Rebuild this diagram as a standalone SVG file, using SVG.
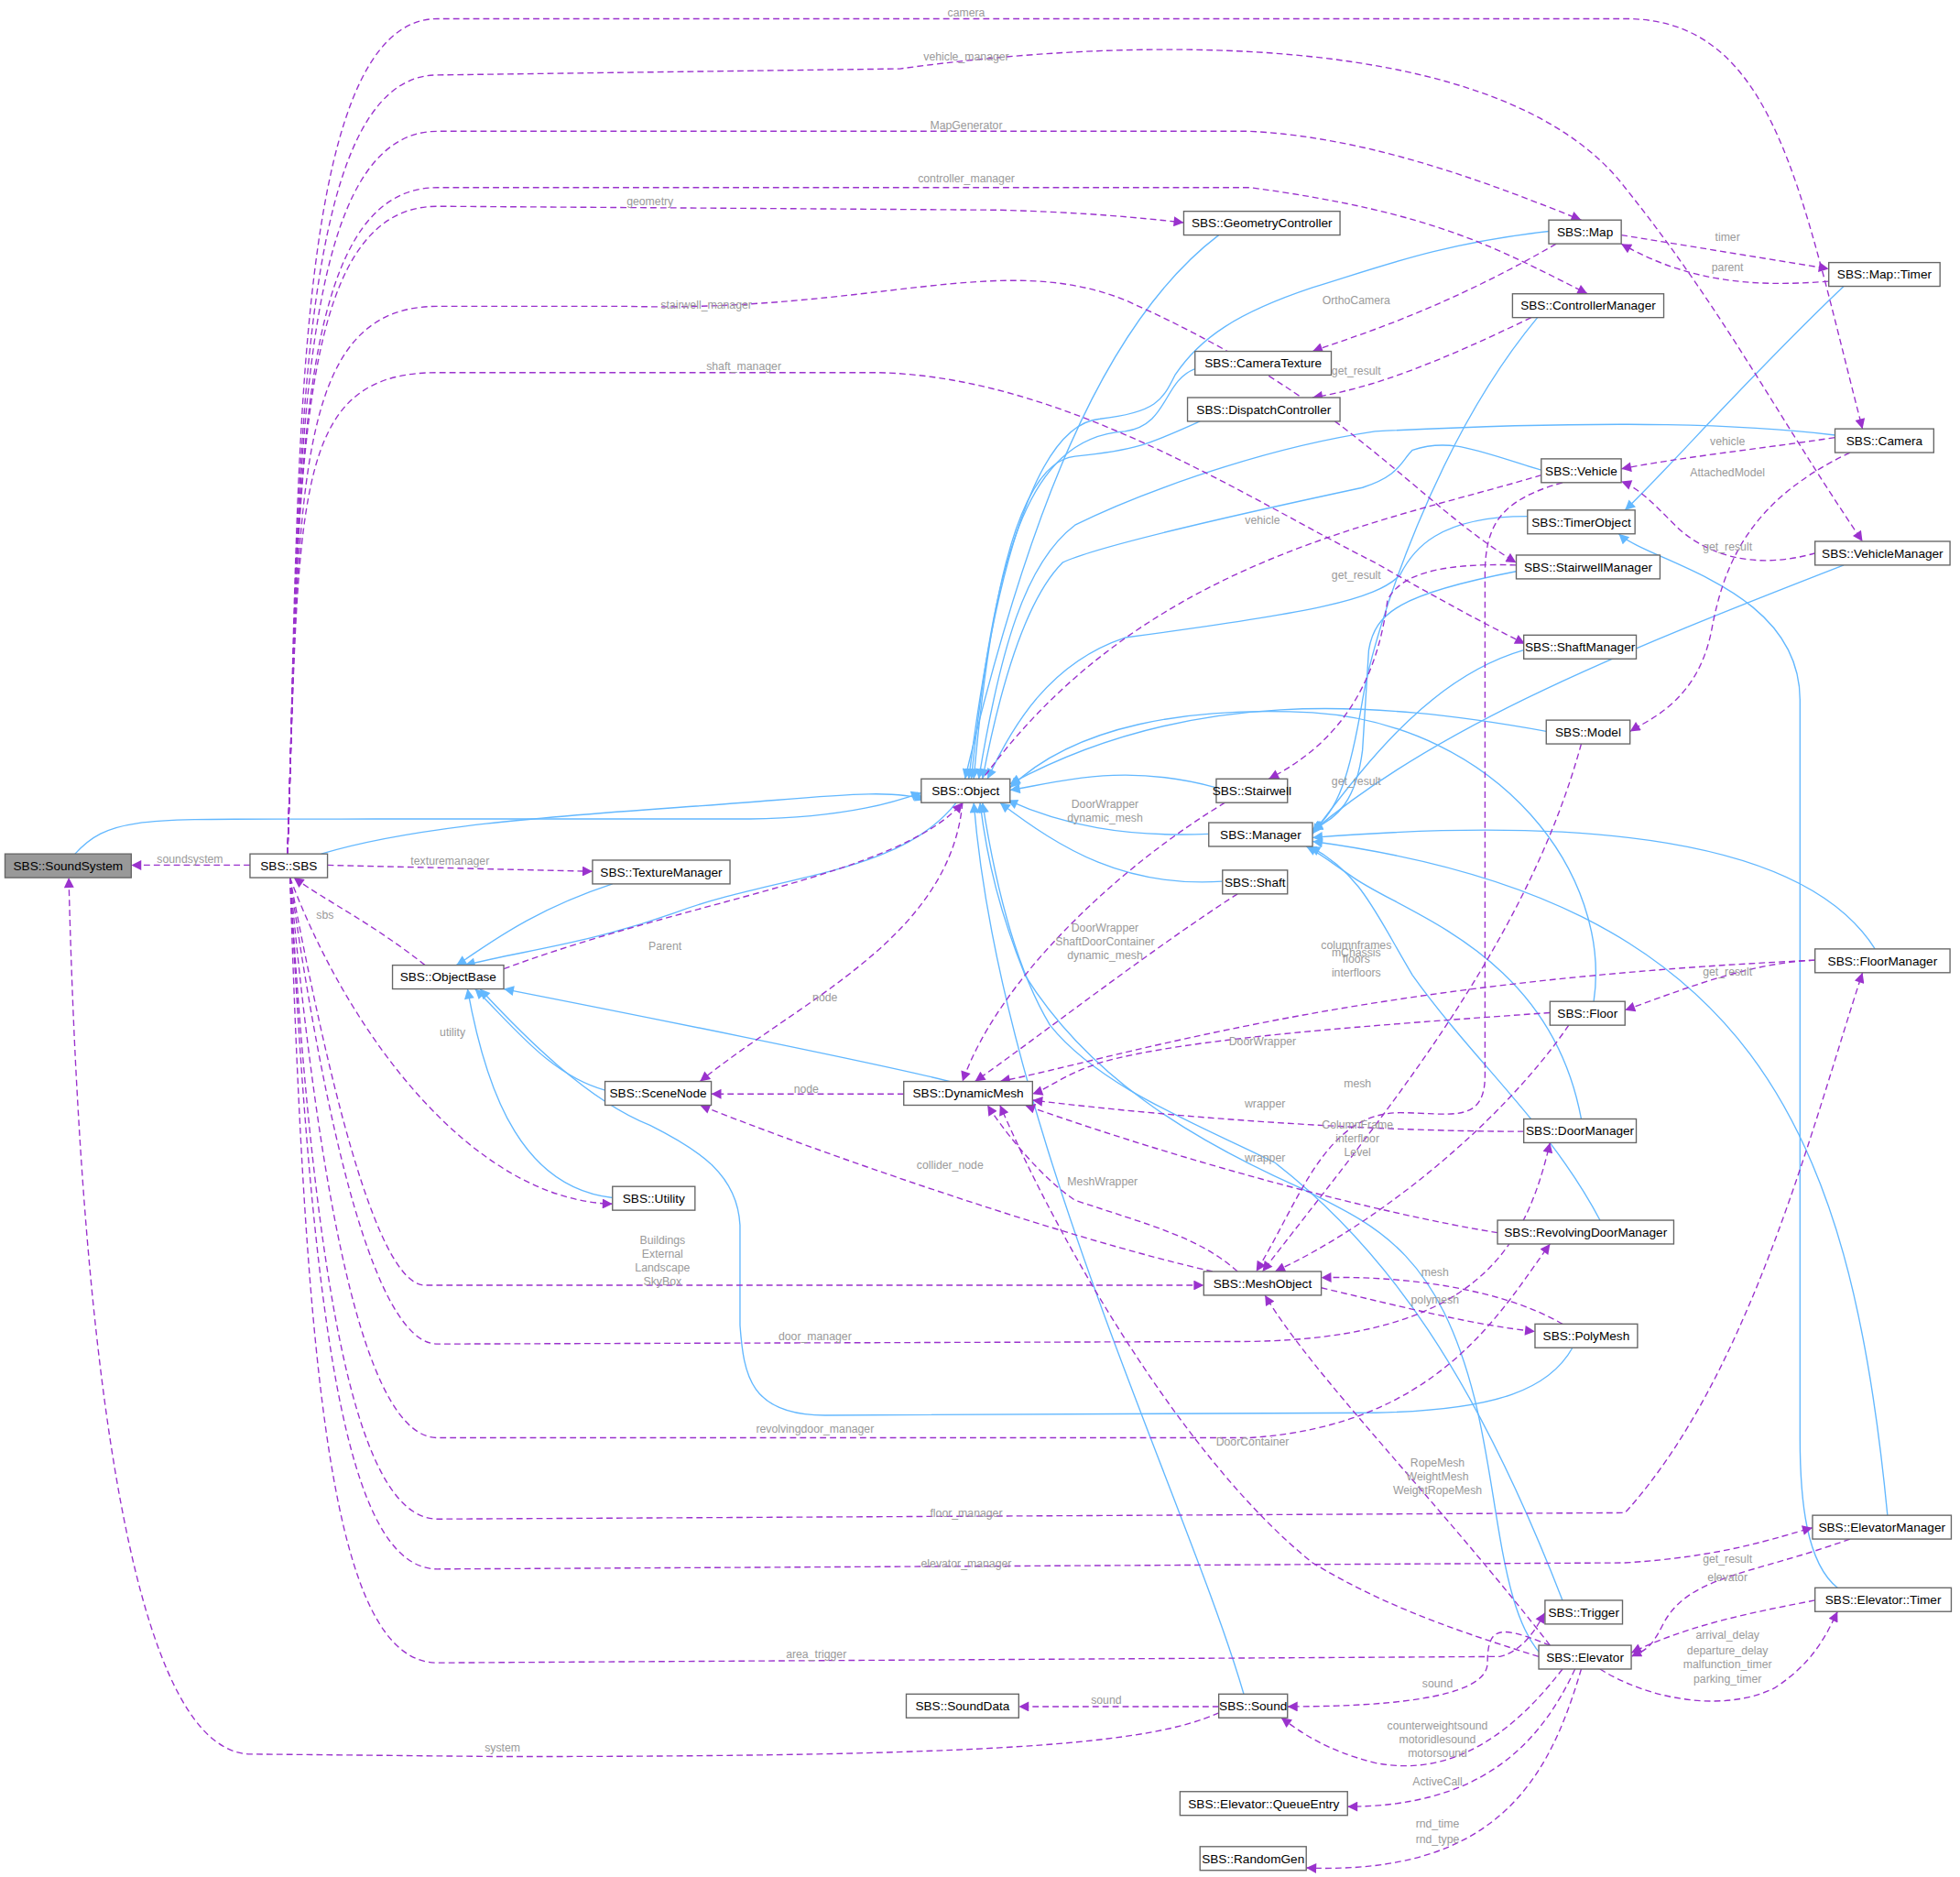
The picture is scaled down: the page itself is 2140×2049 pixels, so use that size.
<svg xmlns="http://www.w3.org/2000/svg" width="2140" height="2049" viewBox="0 0 2140 2049">
<style>
.n rect{fill:#fff;stroke:#666;stroke-width:1}
.n text{font-family:"Liberation Sans",Arial,sans-serif;font-size:10px;fill:#000;text-anchor:middle}
.b{fill:none;stroke:#63b8ff;stroke-width:1}
.d{fill:none;stroke:#9a32cd;stroke-width:1;stroke-dasharray:5,3}
.l{font-family:"Liberation Sans",Arial,sans-serif;font-size:9px;fill:#9a9a9a;text-anchor:middle}
</style>
<defs>
<marker id="ab" viewBox="0 0 10 10" refX="10" refY="5" markerWidth="10" markerHeight="8" markerUnits="userSpaceOnUse" orient="auto"><path d="M0,0L10,5L0,10z" fill="#63b8ff"/></marker>
<marker id="ad" viewBox="0 0 10 10" refX="10" refY="5" markerWidth="10" markerHeight="8" markerUnits="userSpaceOnUse" orient="auto"><path d="M0,0L10,5L0,10z" fill="#9a32cd"/></marker>
</defs>
<rect width="2140" height="2049" fill="#fff"/>
<g transform="scale(1.3648)">
<g id="connectors">
<g marker-end="url(#ab)">
<path class="b" d="M60,683 C90,650 120,656 300,655 L600,655 C680,654 720,640 737,634"/>
<path class="b" d="M257,683 C350,655 500,650 620,640 C680,635 720,632 740,640"/>
<path class="b" d="M765,642 C720,700 620,700 540,730 C470,755 420,760 372,772"/>
<path class="b" d="M490,707 C420,730 385,760 365,772"/>
<path class="b" d="M484,872 C440,860 410,820 380,791"/>
<path class="b" d="M760,865 C700,850 500,810 403,791"/>
<path class="b" d="M490,958 C420,950 390,880 374,791"/>
<path class="b" d="M1258,1078 C1240,1110 1200,1128 1100,1130 L660,1132 C600,1132 595,1100 592,1060 L592,980 C590,940 560,920 520,900 C470,880 420,830 384,791"/>
<path class="b" d="M975,188 C880,260 820,420 772,623"/>
<path class="b" d="M956,295 C930,305 935,340 900,345 C820,350 795,450 777,623"/>
<path class="b" d="M1239,185 C1150,195 1100,215 1050,230 C990,250 960,270 940,300 C930,320 925,330 880,335 C820,340 790,500 775,623"/>
<path class="b" d="M960,337 C920,355 910,360 860,365 C810,370 790,500 779,623"/>
<path class="b" d="M1230,254 C1150,350 1100,500 1090,560 C1080,620 1070,650 1050,664"/>
<path class="b" d="M1468,348 C1400,340 1300,335 1100,345 C1000,360 900,400 860,420 C820,450 800,520 783,623"/>
<path class="b" d="M1233,376 C1180,360 1160,350 1130,360 C1120,370 1120,380 1090,390 C950,420 870,440 850,450 C820,480 800,550 786,623"/>
<path class="b" d="M1222,413 C1150,413 1130,440 1120,460 C1100,480 1050,490 900,510 C840,530 810,580 790,623"/>
<path class="b" d="M1475,229 C1400,300 1330,380 1300,408"/>
<path class="b" d="M1470,1270 C1445,1250 1440,1200 1440,1150 L1440,560 C1440,470 1320,450 1295,427"/>
<path class="b" d="M1213,457 C1120,475 1100,490 1095,520 L1090,600 C1085,640 1070,655 1050,663"/>
<path class="b" d="M1475,452 C1300,520 1150,580 1050,665"/>
<path class="b" d="M1219,520 C1150,540 1100,600 1050,667"/>
<path class="b" d="M1237,585 C1100,560 950,550 808,627"/>
<path class="b" d="M973,630 C900,610 850,625 808,632"/>
<path class="b" d="M967,667 C900,670 850,660 806,640"/>
<path class="b" d="M978,705 C900,710 850,680 800,642"/>
<path class="b" d="M1500,759 C1450,680 1300,650 1050,670"/>
<path class="b" d="M1275,801 C1290,700 1200,580 1050,570 C950,565 860,580 808,630"/>
<path class="b" d="M1265,895 C1240,760 1120,730 1080,700 C1065,690 1055,682 1045,677"/>
<path class="b" d="M1280,976 C1240,900 1180,850 1130,780 C1100,730 1090,700 1048,677"/>
<path class="b" d="M1510,1212 C1480,900 1400,720 1050,673"/>
<path class="b" d="M1250,1280 C1180,1100 1110,1000 1020,930 C960,900 880,870 840,820 C810,770 795,700 786,642"/>
<path class="b" d="M1240,1330 C1200,1300 1200,1200 1180,1120 C1150,1000 1100,980 1040,950 C950,910 870,860 820,780 C800,730 790,690 784,642"/>
<path class="b" d="M995,1355 C950,1200 800,900 779,642"/>
</g>
<g marker-end="url(#ad)">
<path class="d" d="M230,683 C240,400 230,15 350,15 L1300,15 C1420,15 1440,150 1490,343"/>
<path class="d" d="M230,683 C240,400 232,60 350,60 L720,55 C900,30 1200,20 1300,150 C1380,250 1420,330 1490,433"/>
<path class="d" d="M230,683 C240,400 232,105 350,105 L1000,105 C1100,110 1200,150 1265,176"/>
<path class="d" d="M230,683 C240,400 232,150 350,150 L1000,150 C1150,170 1200,200 1270,235"/>
<path class="d" d="M230,683 C240,400 232,165 350,165 L800,168 C870,170 910,174 947,178"/>
<path class="d" d="M230,683 C240,400 232,245 350,245 L500,245 C700,250 800,200 900,240 C1080,320 1130,400 1213,450"/>
<path class="d" d="M230,683 C240,400 232,298 350,298 L700,298 C850,300 1000,400 1100,450 C1170,490 1200,505 1220,515"/>
<path class="d" d="M262,692 L474,697"/>
<path class="d" d="M200,692 L105,692"/>
<path class="d" d="M340,772 C300,740 260,720 235,702"/>
<path class="d" d="M232,702 C280,830 380,960 490,963"/>
<path class="d" d="M232,702 C260,850 300,1028 340,1028 L963,1028"/>
<path class="d" d="M232,702 C260,900 300,1075 350,1075 L1000,1073 C1180,1070 1220,1000 1240,914"/>
<path class="d" d="M232,702 C255,950 290,1150 350,1150 L1000,1150 C1150,1140 1200,1050 1240,995"/>
<path class="d" d="M232,702 C250,1000 280,1215 350,1215 L1300,1210 C1400,1100 1450,900 1490,778"/>
<path class="d" d="M232,702 C250,1050 275,1255 350,1255 L1300,1250 C1380,1245 1420,1230 1450,1222"/>
<path class="d" d="M232,702 C245,1100 265,1330 350,1330 L1200,1325 C1220,1320 1230,1300 1236,1290"/>
<path class="d" d="M975,1370 C920,1395 800,1405 400,1405 L200,1403 C80,1400 60,900 55,702"/>
<path class="d" d="M975,1365 L815,1365"/>
<path class="d" d="M403,775 C550,720 720,700 770,642"/>
<path class="d" d="M770,642 C760,750 640,800 560,865"/>
<path class="d" d="M723,875 L569,875"/>
<path class="d" d="M1233,380 C1100,420 900,450 773,642"/>
<path class="d" d="M1468,350 C1400,360 1350,365 1297,375"/>
<path class="d" d="M1480,362 C1400,400 1380,450 1370,500 C1360,560 1320,575 1304,585"/>
<path class="d" d="M1460,440 C1400,460 1360,440 1340,420 C1320,400 1310,390 1297,385"/>
<path class="d" d="M1297,188 L1463,215"/>
<path class="d" d="M1463,225 C1400,230 1350,225 1297,195"/>
<path class="d" d="M1245,195 C1150,250 1080,270 1050,281"/>
<path class="d" d="M1225,254 C1150,290 1100,310 1050,318"/>
<path class="d" d="M1213,452 C1150,450 1120,460 1110,480 C1100,560 1060,600 1015,623"/>
<path class="d" d="M1452,768 C1400,770 1350,790 1300,808"/>
<path class="d" d="M1250,386 C1200,400 1188,420 1188,460 L1188,860 C1188,900 1160,890 1120,890 C1060,890 1040,960 1005,1017"/>
<path class="d" d="M1265,595 C1220,760 1100,900 1010,1017"/>
<path class="d" d="M980,642 C900,690 800,780 770,865"/>
<path class="d" d="M990,715 C920,760 830,830 780,865"/>
<path class="d" d="M1452,768 C1300,775 1150,790 1000,820 C900,840 850,855 800,865"/>
<path class="d" d="M1240,810 C1100,820 950,830 880,850 C850,860 840,870 826,875"/>
<path class="d" d="M1255,820 C1200,900 1100,980 1020,1017"/>
<path class="d" d="M1219,905 C1100,905 950,895 826,880"/>
<path class="d" d="M1198,986 C1100,970 950,930 820,884"/>
<path class="d" d="M990,1017 C960,990 920,980 860,960 C830,940 800,900 790,884"/>
<path class="d" d="M970,1017 C850,990 650,920 560,884"/>
<path class="d" d="M1057,1030 C1120,1045 1180,1060 1228,1065"/>
<path class="d" d="M1250,1059 C1200,1030 1120,1020 1057,1022"/>
<path class="d" d="M1231,1325 C1150,1300 1100,1280 1050,1250 C950,1170 850,1000 800,884"/>
<path class="d" d="M1240,1316 C1150,1200 1050,1100 1012,1036"/>
<path class="d" d="M1240,1316 C1200,1300 1190,1300 1190,1330 C1190,1360 1100,1365 1030,1365"/>
<path class="d" d="M1250,1335 C1200,1400 1150,1420 1100,1410 C1060,1400 1040,1385 1025,1374"/>
<path class="d" d="M1260,1335 C1230,1400 1180,1445 1078,1445"/>
<path class="d" d="M1265,1335 C1240,1420 1200,1500 1045,1494"/>
<path class="d" d="M1480,1231 C1400,1260 1350,1260 1330,1300 C1320,1320 1315,1320 1305,1325"/>
<path class="d" d="M1452,1280 C1400,1290 1350,1300 1305,1322"/>
<path class="d" d="M1280,1335 C1320,1360 1380,1370 1420,1350 C1450,1330 1460,1310 1470,1289"/>
</g>
<g>
<text class="l" x="773" y="13">camera</text>
<text class="l" x="773" y="48">vehicle_manager</text>
<text class="l" x="773" y="103">MapGenerator</text>
<text class="l" x="773" y="146">controller_manager</text>
<text class="l" x="520" y="164">geometry</text>
<text class="l" x="565" y="247">stairwell_manager</text>
<text class="l" x="595" y="296">shaft_manager</text>
<text class="l" x="360" y="692">texturemanager</text>
<text class="l" x="152" y="690">soundsystem</text>
<text class="l" x="260" y="735">sbs</text>
<text class="l" x="362" y="829">utility</text>
<text class="l" x="530" y="995">Buildings</text>
<text class="l" x="530" y="1006">External</text>
<text class="l" x="530" y="1017">Landscape</text>
<text class="l" x="530" y="1028">SkyBox</text>
<text class="l" x="652" y="1072">door_manager</text>
<text class="l" x="652" y="1146">revolvingdoor_manager</text>
<text class="l" x="773" y="1213">floor_manager</text>
<text class="l" x="773" y="1254">elevator_manager</text>
<text class="l" x="653" y="1326">area_trigger</text>
<text class="l" x="402" y="1401">system</text>
<text class="l" x="885" y="1363">sound</text>
<text class="l" x="532" y="760">Parent</text>
<text class="l" x="660" y="801">node</text>
<text class="l" x="645" y="874">node</text>
<text class="l" x="1010" y="419">vehicle</text>
<text class="l" x="1382" y="356">vehicle</text>
<text class="l" x="1382" y="381">AttachedModel</text>
<text class="l" x="1382" y="440">get_result</text>
<text class="l" x="1382" y="193">timer</text>
<text class="l" x="1382" y="217">parent</text>
<text class="l" x="1085" y="243">OrthoCamera</text>
<text class="l" x="1085" y="300">get_result</text>
<text class="l" x="1085" y="463">get_result</text>
<text class="l" x="1085" y="628">get_result</text>
<text class="l" x="1382" y="780">get_result</text>
<text class="l" x="884" y="646">DoorWrapper</text>
<text class="l" x="884" y="657">dynamic_mesh</text>
<text class="l" x="884" y="745">DoorWrapper</text>
<text class="l" x="884" y="756">ShaftDoorContainer</text>
<text class="l" x="884" y="767">dynamic_mesh</text>
<text class="l" x="1085" y="759">columnframes</text>
<text class="l" x="1085" y="765">mChassis</text>
<text class="l" x="1085" y="770">floors</text>
<text class="l" x="1085" y="781">interfloors</text>
<text class="l" x="1010" y="836">DoorWrapper</text>
<text class="l" x="1086" y="870">mesh</text>
<text class="l" x="1086" y="903">ColumnFrame</text>
<text class="l" x="1086" y="914">interfloor</text>
<text class="l" x="1086" y="925">Level</text>
<text class="l" x="1012" y="886">wrapper</text>
<text class="l" x="1012" y="929">wrapper</text>
<text class="l" x="882" y="948">MeshWrapper</text>
<text class="l" x="760" y="935">collider_node</text>
<text class="l" x="1148" y="1043">polymesh</text>
<text class="l" x="1148" y="1021">mesh</text>
<text class="l" x="1002" y="1156">DoorContainer</text>
<text class="l" x="1150" y="1173">RopeMesh</text>
<text class="l" x="1150" y="1184">WeightMesh</text>
<text class="l" x="1150" y="1195">WeightRopeMesh</text>
<text class="l" x="1150" y="1350">sound</text>
<text class="l" x="1150" y="1383">counterweightsound</text>
<text class="l" x="1150" y="1394">motoridlesound</text>
<text class="l" x="1150" y="1405">motorsound</text>
<text class="l" x="1150" y="1428">ActiveCall</text>
<text class="l" x="1150" y="1462">rnd_time</text>
<text class="l" x="1150" y="1474">rnd_type</text>
<text class="l" x="1382" y="1250">get_result</text>
<text class="l" x="1382" y="1265">elevator</text>
<text class="l" x="1382" y="1311">arrival_delay</text>
<text class="l" x="1382" y="1323">departure_delay</text>
<text class="l" x="1382" y="1334">malfunction_timer</text>
<text class="l" x="1382" y="1346">parking_timer</text>
</g>
</g>
<g id="n_soundsystem" class="n"><rect x="4" y="683" width="101" height="19" style="fill:#999"/><text x="54.5" y="696">SBS::SoundSystem</text></g>
<g id="n_sbs" class="n"><rect x="200" y="683" width="62" height="19"/><text x="231" y="696">SBS::SBS</text></g>
<g id="n_texturemanager" class="n"><rect x="474" y="688" width="110" height="19"/><text x="529" y="701">SBS::TextureManager</text></g>
<g id="n_objectbase" class="n"><rect x="314" y="772" width="89" height="19"/><text x="358.5" y="785">SBS::ObjectBase</text></g>
<g id="n_scenenode" class="n"><rect x="484" y="865" width="85" height="19"/><text x="526.5" y="878">SBS::SceneNode</text></g>
<g id="n_utility" class="n"><rect x="490" y="949" width="66" height="19"/><text x="523" y="962">SBS::Utility</text></g>
<g id="n_object" class="n"><rect x="737" y="623" width="71" height="19"/><text x="772.5" y="636">SBS::Object</text></g>
<g id="n_geometrycontroller" class="n"><rect x="947" y="169" width="125" height="19"/><text x="1009.5" y="182">SBS::GeometryController</text></g>
<g id="n_cameratexture" class="n"><rect x="956" y="281" width="109" height="19"/><text x="1010.5" y="294">SBS::CameraTexture</text></g>
<g id="n_dispatchcontroller" class="n"><rect x="950" y="318" width="122" height="19"/><text x="1011" y="331">SBS::DispatchController</text></g>
<g id="n_map" class="n"><rect x="1239" y="176" width="58" height="19"/><text x="1268" y="189">SBS::Map</text></g>
<g id="n_controllermanager" class="n"><rect x="1210" y="235" width="121" height="19"/><text x="1270.5" y="248">SBS::ControllerManager</text></g>
<g id="n_maptimer" class="n"><rect x="1463" y="210" width="89" height="19"/><text x="1507.5" y="223">SBS::Map::Timer</text></g>
<g id="n_camera" class="n"><rect x="1468" y="343" width="79" height="19"/><text x="1507.5" y="356">SBS::Camera</text></g>
<g id="n_vehicle" class="n"><rect x="1233" y="367" width="64" height="19"/><text x="1265" y="380">SBS::Vehicle</text></g>
<g id="n_timerobject" class="n"><rect x="1222" y="408" width="86" height="19"/><text x="1265" y="421">SBS::TimerObject</text></g>
<g id="n_vehiclemanager" class="n"><rect x="1452" y="433" width="108" height="19"/><text x="1506" y="446">SBS::VehicleManager</text></g>
<g id="n_stairwellmanager" class="n"><rect x="1213" y="444" width="115" height="19"/><text x="1270.5" y="457">SBS::StairwellManager</text></g>
<g id="n_shaftmanager" class="n"><rect x="1219" y="508" width="90" height="19"/><text x="1264" y="521">SBS::ShaftManager</text></g>
<g id="n_model" class="n"><rect x="1237" y="576" width="67" height="19"/><text x="1270.5" y="589">SBS::Model</text></g>
<g id="n_stairwell" class="n"><rect x="973" y="623" width="57" height="19"/><text x="1001.5" y="636">SBS::Stairwell</text></g>
<g id="n_manager" class="n"><rect x="967" y="658" width="83" height="19"/><text x="1008.5" y="671">SBS::Manager</text></g>
<g id="n_shaft" class="n"><rect x="978" y="696" width="52" height="19"/><text x="1004" y="709">SBS::Shaft</text></g>
<g id="n_floormanager" class="n"><rect x="1452" y="759" width="108" height="19"/><text x="1506" y="772">SBS::FloorManager</text></g>
<g id="n_floor" class="n"><rect x="1240" y="801" width="60" height="19"/><text x="1270" y="814">SBS::Floor</text></g>
<g id="n_dynamicmesh" class="n"><rect x="723" y="865" width="103" height="19"/><text x="774.5" y="878">SBS::DynamicMesh</text></g>
<g id="n_doormanager" class="n"><rect x="1219" y="895" width="90" height="19"/><text x="1264" y="908">SBS::DoorManager</text></g>
<g id="n_revolvingdoormanager" class="n"><rect x="1198" y="976" width="141" height="19"/><text x="1268.5" y="989">SBS::RevolvingDoorManager</text></g>
<g id="n_meshobject" class="n"><rect x="963" y="1017" width="94" height="19"/><text x="1010" y="1030">SBS::MeshObject</text></g>
<g id="n_polymesh" class="n"><rect x="1228" y="1059" width="82" height="19"/><text x="1269" y="1072">SBS::PolyMesh</text></g>
<g id="n_elevatormanager" class="n"><rect x="1450" y="1212" width="111" height="19"/><text x="1505.5" y="1225">SBS::ElevatorManager</text></g>
<g id="n_trigger" class="n"><rect x="1236" y="1280" width="62" height="19"/><text x="1267" y="1293">SBS::Trigger</text></g>
<g id="n_elevator" class="n"><rect x="1231" y="1316" width="74" height="19"/><text x="1268" y="1329">SBS::Elevator</text></g>
<g id="n_elevatortimer" class="n"><rect x="1452" y="1270" width="109" height="19"/><text x="1506.5" y="1283">SBS::Elevator::Timer</text></g>
<g id="n_sounddata" class="n"><rect x="725" y="1355" width="90" height="19"/><text x="770" y="1368">SBS::SoundData</text></g>
<g id="n_sound" class="n"><rect x="975" y="1355" width="55" height="19"/><text x="1002.5" y="1368">SBS::Sound</text></g>
<g id="n_queueentry" class="n"><rect x="944" y="1433" width="134" height="19"/><text x="1011" y="1446">SBS::Elevator::QueueEntry</text></g>
<g id="n_randomgen" class="n"><rect x="960" y="1477" width="85" height="19"/><text x="1002.5" y="1490">SBS::RandomGen</text></g>
</g>
</svg>
